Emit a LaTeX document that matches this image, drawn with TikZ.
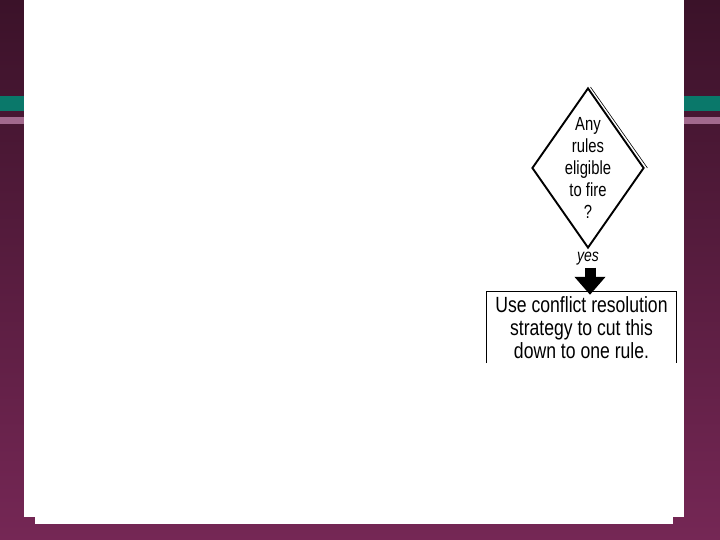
\documentclass[tikz,border=0pt]{standalone}
\usepackage{fontspec}
\newfontfamily\boxfont[FakeStretch=0.80]{Liberation Sans}
\newfontfamily\diafont[FakeStretch=0.78]{Liberation Sans}
\newfontfamily\yesfont[FakeStretch=0.80]{Liberation Sans}
\usetikzlibrary{shapes.geometric,arrows.meta}
\definecolor{bgtop}{HTML}{3B1229}
\definecolor{bgbot}{HTML}{752755}
\definecolor{tealband}{HTML}{0A786A}
\definecolor{pinkband}{HTML}{A2698D}
\tikzset{
  decision/.style={diamond, draw=black, line width=1.9pt, minimum width=112pt, minimum height=160pt, inner sep=0pt, fill=white},
  dtext/.style={align=center, font=\diafont\fontsize{19}{22}\selectfont, inner sep=0pt},
  procbox/.style={minimum width=189pt, minimum height=71pt, inner sep=0pt, align=center, font=\boxfont\fontsize{22}{23}\selectfont},
  bigarrow/.style={line width=11pt, -{Triangle[width=30pt,length=18pt]}},
}
\begin{document}
\begin{tikzpicture}[x=1pt,y=-1pt]
\useasboundingbox (0,0) rectangle (720,540);
% background
\shade[top color=bgtop, bottom color=bgbot] (0,0) rectangle (720,540);
\fill[tealband] (0,96) rectangle (720,111);
\fill[pinkband] (0,117) rectangle (720,124);
% white panel
\fill[white] (24,0) rectangle (684,517);
\fill[white] (35,517) rectangle (673,524);
% diamond
\node[decision] (d) at (588,168) {};
\draw[line width=0.6pt] ([xshift=2.5pt]d.north) -- ([xshift=2.5pt]d.east);
\node[dtext] (dt) at (588,168) {Any\\rules\\eligible\\to fire\\?};
\node[font=\yesfont\itshape\fontsize{17.5}{17}\selectfont, inner sep=0pt] (yes) at (588,259) {yes};
% box
\node[procbox] (box) at (581.5,327.5) {Use conflict resolution\\strategy to cut this\\down to one rule.};
\draw[line width=1pt] (box.south west) -- (box.north west) -- (box.north east) -- (box.south east);
\draw[bigarrow] ([xshift=2pt,yshift=-2pt]yes.south) -- ([xshift=8.5pt,yshift=-3pt]box.north);
\end{tikzpicture}
\end{document}
